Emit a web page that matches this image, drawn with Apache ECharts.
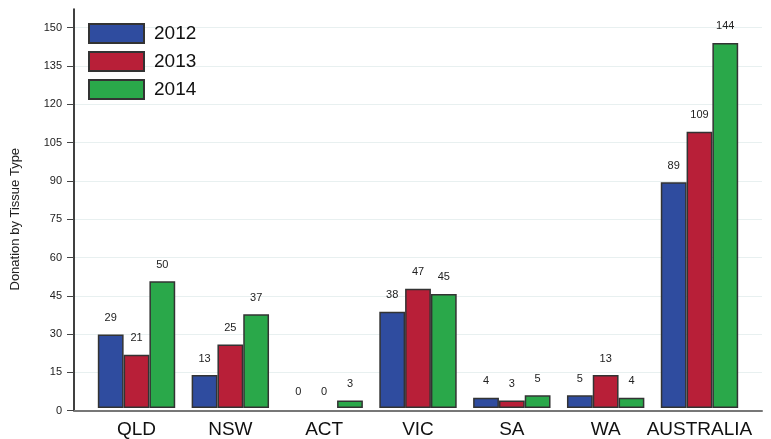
<!DOCTYPE html>
<html>
<head>
<meta charset="utf-8">
<script src="https://cdn.jsdelivr.net/npm/echarts@6/dist/echarts.min.js"></script>
<style>
  html, body { margin: 0; padding: 0; background: #fff; }
  #chart { width: 771px; height: 439px; }
</style>
</head>
<body>
<div id="chart"></div>
<script>
var regions = ['QLD', 'NSW', 'ACT', 'VIC', 'SA', 'WA', 'AUSTRALIA'];
var years = ['2012', '2013', '2014'];
var d2012 = [29, 13, 0, 38, 4, 5, 89];
var d2013 = [21, 25, 0, 47, 3, 13, 109];
var d2014 = [50, 37, 3, 45, 5, 4, 144];
var colors = ['#2F4C9F', '#B81F38', '#2AA84A'];

var font = 'Liberation Sans, Arial, sans-serif';
var chart = echarts.init(document.getElementById('chart'));

function bar(name, data, color) {
    return {
        name: name,
        type: 'bar',
        xAxisIndex: 2,
        yAxisIndex: 2,
        // zero bars: no border, so no stray line on the baseline
        data: data.map(function (v) {
            return v === 0 ? { value: v, itemStyle: { borderWidth: 0 } } : v;
        }),
        barWidth: 25.8,
        barGap: '0%',
        itemStyle: { color: color, borderColor: '#333', borderWidth: 1.5 },
        label: {
            show: true,
            position: 'top',
            distance: 11,
            color: '#222',
            fontSize: 11,
            fontFamily: font
        }
    };
}

var option = {
    animation: false,
    color: colors,
    textStyle: { fontFamily: font },
    legend: {
        data: years,
        orient: 'vertical',
        left: 88,
        top: 23,
        padding: 0,
        itemWidth: 55,
        itemHeight: 19,
        itemGap: 7,
        icon: 'rect',
        textStyle: { fontSize: 19, color: '#111', fontFamily: font, padding: [0, 0, 0, 5] }
    },
    grid: [
        // frame: axis lines
        { left: 74, right: 9, top: 9, bottom: 28.3 },
        // labelled value axis + grid lines
        { left: 74, right: 9, top: 27.7, bottom: 28.3 },
        // bars
        { left: 89.6, right: 24.6, top: 27.7, bottom: 28.3 }
    ],
    xAxis: [
        {
            gridIndex: 0, type: 'value', min: 0, max: 1,
            axisLine: { show: true, lineStyle: { color: '#777', width: 2 } },
            axisTick: { show: false }, axisLabel: { show: false }, splitLine: { show: false }
        },
        {
            gridIndex: 1, type: 'value', min: 0, max: 1, show: false
        },
        {
            gridIndex: 2, type: 'category', data: regions,
            axisLine: { show: false },
            axisTick: { show: false },
            axisLabel: { interval: 0, fontSize: 19, color: '#111', margin: 12, fontFamily: font }
        }
    ],
    yAxis: [
        {
            gridIndex: 0, type: 'value', min: 0, max: 157.3,
            axisLine: { show: true, lineStyle: { color: '#000', width: 1.5 } },
            axisTick: { show: false }, axisLabel: { show: false }, splitLine: { show: false }
        },
        {
            gridIndex: 1, type: 'value', min: 0, max: 150, interval: 15,
            name: 'Donation by Tissue Type',
            nameLocation: 'middle',
            nameGap: 52,
            nameTextStyle: { fontSize: 13, color: '#222', fontFamily: font },
            axisLine: { show: false },
            axisTick: { show: true, inside: false, length: 7, lineStyle: { color: '#444', width: 1 } },
            axisLabel: { fontSize: 11, color: '#222', margin: 12, fontFamily: font },
            splitLine: { show: true, lineStyle: { color: '#E8F0F0', width: 1 } }
        },
        {
            gridIndex: 2, type: 'value', min: 0, max: 150, show: false
        }
    ],
    series: [
        bar('2012', d2012, colors[0]),
        bar('2013', d2013, colors[1]),
        bar('2014', d2014, colors[2])
    ]
};
chart.setOption(option);
</script>
</body>
</html>
